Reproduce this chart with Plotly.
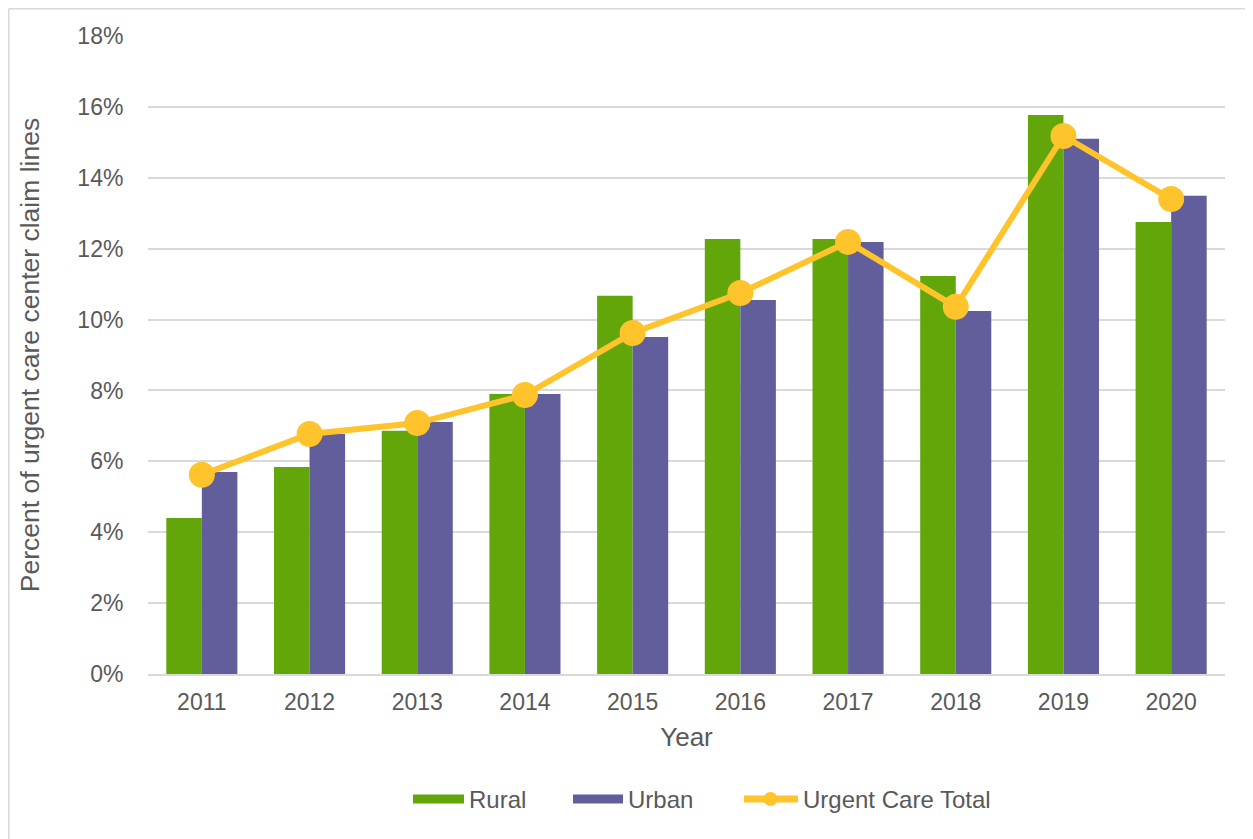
import plotly.graph_objects as go

years = ["2011", "2012", "2013", "2014", "2015", "2016", "2017", "2018", "2019", "2020"]
rural = [4.40, 5.84, 6.86, 7.90, 10.67, 12.27, 12.27, 11.23, 15.77, 12.75]
urban = [5.70, 6.77, 7.11, 7.90, 9.51, 10.55, 12.19, 10.24, 15.10, 13.49]
total = [5.62, 6.77, 7.08, 7.87, 9.62, 10.75, 12.19, 10.36, 15.18, 13.40]
series_names = ["Rural", "Urban", "Urgent Care Total"]
y_ticks = [0, 2, 4, 6, 8, 10, 12, 14, 16, 18]
y_labels = [f"{v}%" for v in y_ticks]

GREEN, PURPLE, GOLD = "#63A60A", "#625E9B", "#FFC42B"
font_color = "#595959"
grid = "#D9D9D9"

# page body has an 8px margin, so the figure is shifted by 8px
W, H = 1245, 831
L, R, T, B = 140, 28, 28, 165
pw, ph = W - L - R, H - T - B


def px(fx):
    return (fx - L) / pw


def py(fy):
    return (H - B - fy) / ph


fig = go.Figure()
fig.add_trace(go.Bar(x=years, y=rural, name=series_names[0], marker=dict(color=GREEN, line=dict(width=0)),
                     showlegend=False))
fig.add_trace(go.Bar(x=years, y=urban, name=series_names[1], marker=dict(color=PURPLE, line=dict(width=0)),
                     showlegend=False))
fig.add_trace(go.Scatter(x=years, y=total, name=series_names[2], mode="lines+markers",
                         line=dict(color=GOLD, width=6),
                         marker=dict(color=GOLD, size=26), showlegend=False))

# manual legend (to match wide rectangle swatches)
ly = 791
shapes = [
    dict(type="rect", xref="paper", yref="paper", x0=px(405), x1=px(456), y0=py(ly - 4.5), y1=py(ly + 4.5),
         fillcolor=GREEN, line=dict(width=0)),
    dict(type="rect", xref="paper", yref="paper", x0=px(565), x1=px(615), y0=py(ly - 4.5), y1=py(ly + 4.5),
         fillcolor=PURPLE, line=dict(width=0)),
    dict(type="line", xref="paper", yref="paper", x0=px(736), x1=px(790), y0=py(ly), y1=py(ly),
         line=dict(color=GOLD, width=7)),
    dict(type="circle", xref="paper", yref="paper", x0=px(755.5), x1=px(769.5), y0=py(ly - 7), y1=py(ly + 7),
         fillcolor=GOLD, line=dict(width=0)),
    # chart frame
    dict(type="line", xref="paper", yref="paper", x0=px(0.75), x1=px(0.75), y0=py(H), y1=py(0.75),
         line=dict(color=grid, width=1.5)),
    dict(type="line", xref="paper", yref="paper", x0=px(0.75), x1=px(W), y0=py(0.75), y1=py(0.75),
         line=dict(color=grid, width=1.5)),
]
annotations = [
    dict(xref="paper", yref="paper", x=px(x0), y=py(ly + 0.5), text=name, showarrow=False,
         xanchor="left", yanchor="middle", font=dict(size=24, color=font_color))
    for x0, name in zip([459, 618, 793], series_names)
]

fig.update_layout(
    width=W, height=H,
    margin=dict(l=L, r=R, t=T, b=B, autoexpand=False),
    paper_bgcolor="white", plot_bgcolor="white",
    font=dict(family="Liberation Sans, Arial, sans-serif", color=font_color, size=23),
    barmode="group", bargap=0.34, bargroupgap=0,
    showlegend=False,
    xaxis=dict(title=dict(text="Year", font=dict(size=26, color=font_color), standoff=13),
               range=[-0.5, 9.5], automargin=False,
               showline=True, linecolor=grid, linewidth=1.5,
               ticks="outside", ticklen=7, tickcolor="rgba(0,0,0,0)",
               tickfont=dict(size=23, color=font_color)),
    yaxis=dict(title=dict(text="Percent of urgent care center claim lines", font=dict(size=26.5, color=font_color),
                          standoff=30),
               range=[0, 18], tickvals=y_ticks, ticktext=y_labels, automargin=False,
               showgrid=True, gridcolor=grid, gridwidth=1.5, zeroline=False,
               ticks="outside", ticklen=19, tickcolor="rgba(0,0,0,0)",
               tickfont=dict(size=23, color=font_color)),
    shapes=shapes,
    annotations=annotations,
)

fig.write_html("out.html")
